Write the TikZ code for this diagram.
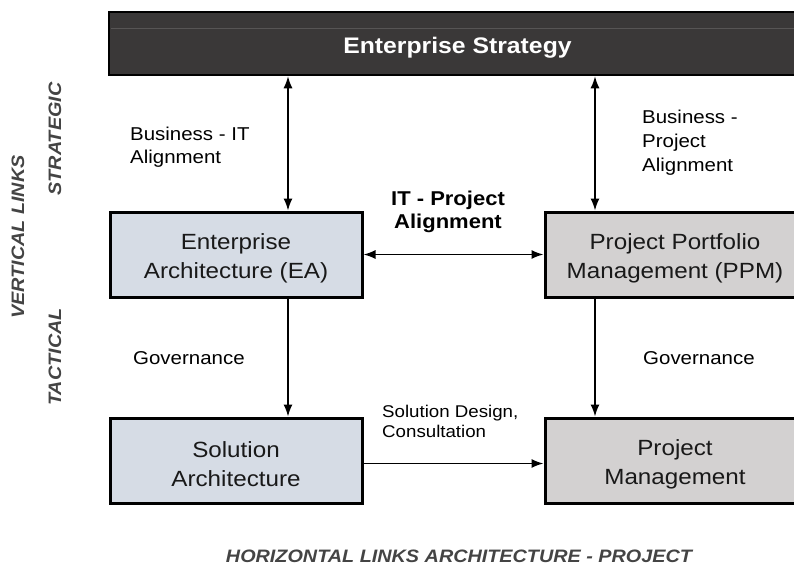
\documentclass[tikz,border=0pt]{standalone}
\usepackage{fontspec}
\setmainfont[FakeStretch=1.1]{Liberation Sans}
\usetikzlibrary{arrows.meta}
\definecolor{eaFill}{HTML}{D6DCE5}
\definecolor{pmFill}{HTML}{D3D1D1}
\definecolor{stratFill}{HTML}{3A3838}
\definecolor{stratLine}{HTML}{575555}
\definecolor{sideGray}{HTML}{444444}
\newcommand\boxtopstrut{\rule{0pt}{24pt}}
\begin{document}
\begin{tikzpicture}[x=1pt,y=-1pt,
 box/.style={draw=black, line width=3pt, minimum width=252pt, minimum height=85pt, inner sep=0pt, align=center, font=\fontsize{22}{29}\selectfont, text=black!90},
 eabox/.style={box, fill=eaFill},
 pmbox/.style={box, fill=pmFill, minimum width=260pt},
 arr/.style={line width=1.5pt, -{Latex[length=12pt,width=9pt]}},
 darr/.style={line width=1.5pt, {Latex[length=12pt,width=9pt]}-{Latex[length=12pt,width=9pt]}},
 lbl/.style={inner sep=0pt, align=left, anchor=north west, font=\fontsize{18.6}{23}\selectfont},
 side/.style={inner sep=0pt, font=\fontsize{18}{20}\selectfont\bfseries\itshape, text=sideGray}]
\useasboundingbox (0,0) rectangle (794,565);
\clip (0,0) rectangle (794,565);

\node[draw=black, line width=2.5pt, fill=stratFill, minimum width=697pt, minimum height=63pt, inner sep=0pt, font=\fontsize{22.5}{26}\selectfont\bfseries, text=white] (strategy) at (457.5,43.5) {\boxtopstrut Enterprise Strategy};
\draw[stratLine, line width=0.8pt] (111,28) -- (800,28);

\node[eabox] (ea) at (236,254.5) {\boxtopstrut Enterprise\\Architecture (EA)};
\node[pmbox] (ppm) at (675,254.5) {\boxtopstrut Project Portfolio\\Management (PPM)};
\node[eabox] (sa) at (236,460.5) {\boxtopstrut Solution\\Architecture};
\node[pmbox] (pm) at (675,460.5) {\boxtopstrut Project\\Management};

\coordinate (l1) at ([xshift=52pt]ea.north);
\coordinate (r1) at ([xshift=-80pt]ppm.north);
\draw[darr] (strategy.south -| l1) -- (l1);
\draw[darr] (strategy.south -| r1) -- (r1);
\draw[arr] ([xshift=52pt]ea.south) -- ([xshift=52pt]sa.north);
\draw[arr] ([xshift=-80pt]ppm.south) -- ([xshift=-80pt]pm.north);
\draw[darr] (ea.east) -- (ppm.west);
\draw[arr] ([yshift=-3pt]sa.east) -- ([yshift=-3pt]sa.east -| pm.west);

\node[lbl] (bit) at (130,127) {Business - IT\\Alignment};
\node[lbl, font=\fontsize{18.6}{24}\selectfont] (bp) at (642,110) {Business -\\Project\\Alignment};
\node[inner sep=0pt, anchor=north, align=center, font=\fontsize{20}{23}\selectfont\bfseries] (itp) at (448,191) {IT - Project\\Alignment};
\node[lbl] (gov1) at (133,351) {Governance};
\node[lbl] (gov2) at (643,351) {Governance};
\node[lbl, font=\fontsize{17}{20}\selectfont] (sdc) at (382,405) {Solution Design,\\Consultation};

\node[side, rotate=90] (vl) at (18,237) {VERTICAL LINKS};
\node[side, rotate=90] (st) at (55,139) {STRATEGIC};
\node[side, rotate=90] (ta) at (55,357) {TACTICAL};
\node[side] (hl) at (459,556) {HORIZONTAL LINKS ARCHITECTURE - PROJECT};
\end{tikzpicture}
\end{document}
